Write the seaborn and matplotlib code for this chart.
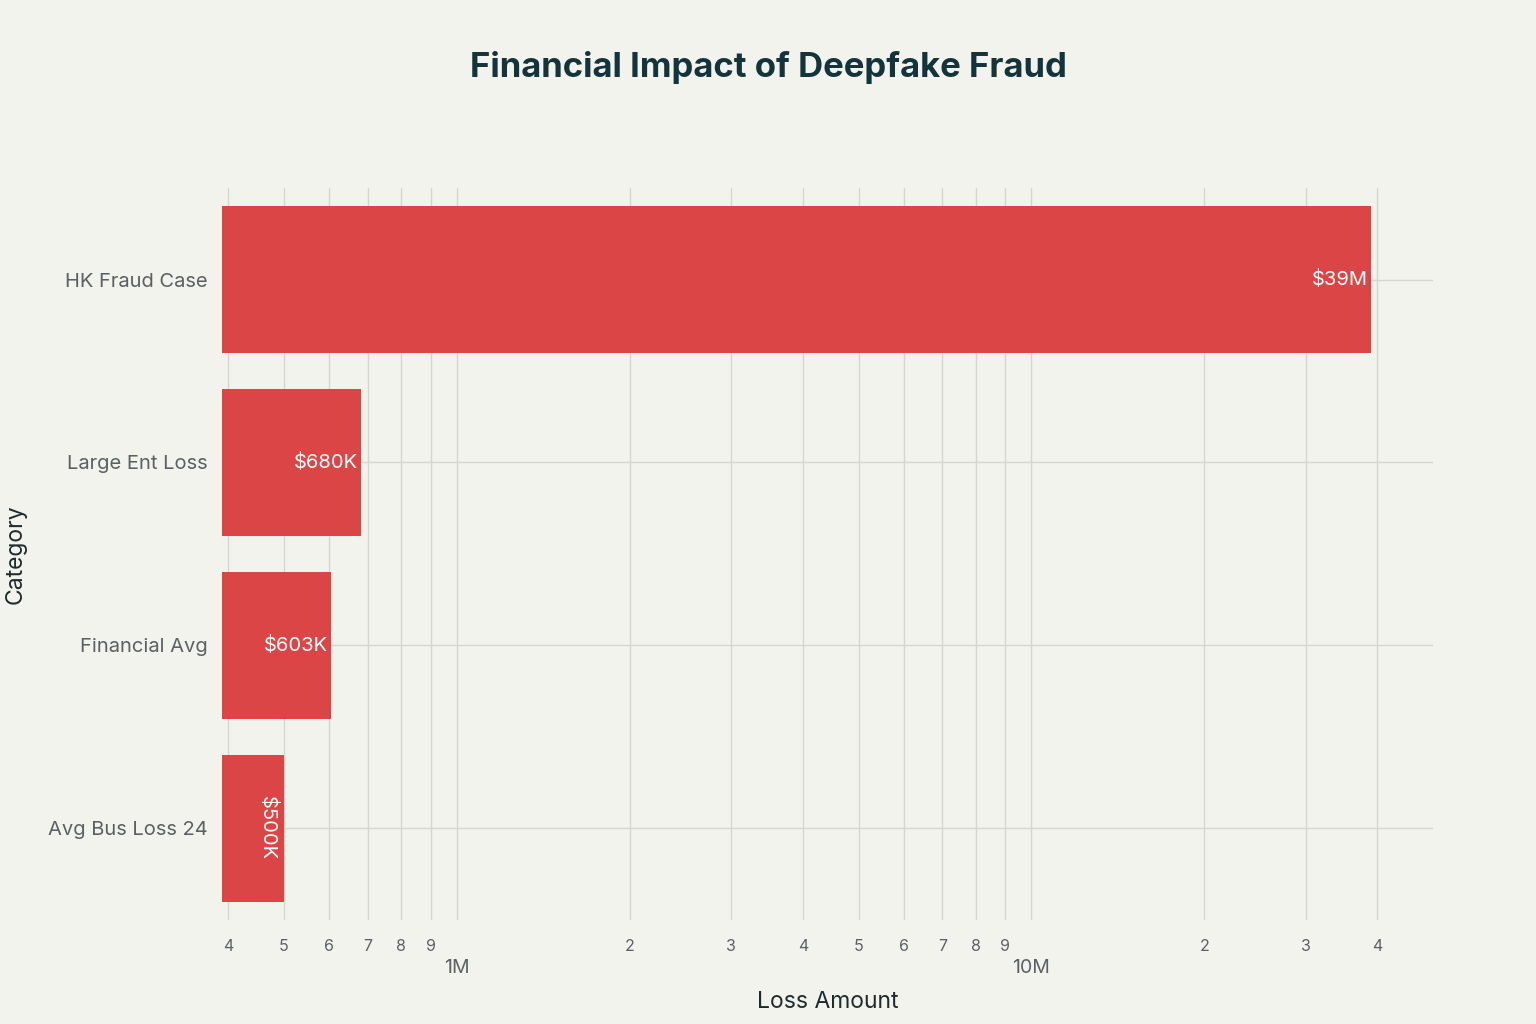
import numpy as np
import pandas as pd
import seaborn as sns
import matplotlib.pyplot as plt
from matplotlib.ticker import FixedLocator, FixedFormatter

# Data
categories = ["HK Fraud Case", "Large Ent Loss", "Financial Avg", "Avg Bus Loss 24"]
losses = [39_000_000, 680_000, 603_000, 500_000]
bar_labels = ["$39M", "$680K", "$603K", "$500K"]

major_ticks = [1e6, 1e7]
major_labels = ["1M", "10M"]
minor_ticks = [4e5, 5e5, 6e5, 7e5, 8e5, 9e5,
               2e6, 3e6, 4e6, 5e6, 6e6, 7e6, 8e6, 9e6,
               2e7, 3e7, 4e7]
minor_labels = ["4", "5", "6", "7", "8", "9",
                "2", "3", "4", "5", "6", "7", "8", "9",
                "2", "3", "4"]

df = pd.DataFrame({"Category": categories, "Loss": losses})

bg = "#F3F3EE"
grid_c = "#D6D6D1"
bar_c = "#DB4545"

sns.set_theme(style="white")
plt.rcParams["font.family"] = ["Inter", "DejaVu Sans"]

fig = plt.figure(figsize=(15.36, 10.24), dpi=100, facecolor=bg)
ax = fig.add_axes([0.1445, 0.1016, 0.7885, 0.7148])
ax.set_facecolor(bg)

sns.barplot(data=df, x="Loss", y="Category", orient="h", color=bar_c,
            saturation=1, width=0.8, linewidth=0, ax=ax, zorder=3)
ax.set_xscale("log")
ax.set_xlim(3.9e5, 5.0e7)
ax.set_ylim(3.5, -0.5)

# ticks
ax.xaxis.set_major_locator(FixedLocator(major_ticks))
ax.xaxis.set_major_formatter(FixedFormatter(major_labels))
ax.xaxis.set_minor_locator(FixedLocator(minor_ticks))
ax.xaxis.set_minor_formatter(FixedFormatter(minor_labels))
ax.tick_params(axis="x", which="major", pad=20, labelsize=14,
               labelcolor="#5C6063", length=8, color=grid_c, width=1)
ax.tick_params(axis="x", which="minor", pad=6, labelsize=11.5,
               labelcolor="#5C6063", length=8, color=grid_c, width=1)
ax.tick_params(axis="y", labelsize=14.5, labelcolor="#5C6063",
               length=6, color=grid_c, pad=4)

ax.grid(True, which="both", axis="x", color=grid_c, linewidth=1, zorder=0)
ax.grid(True, which="major", axis="y", color=grid_c, linewidth=1, zorder=0)
for s in ax.spines.values():
    s.set_visible(False)

# bar value labels
for i, (v, lab) in enumerate(zip(losses, bar_labels)):
    if lab == "$500K":
        ax.text(v / 1.03, i, lab, rotation=-90, ha="right", va="center",
                color="white", fontsize=14.5, zorder=4)
    else:
        ax.text(v / 1.012, i, lab, ha="right", va="center",
                color="white", fontsize=14.5, zorder=4)

ax.set_xlabel("Loss Amount", fontsize=16.5, color="#1F2A2E", labelpad=10)
ax.set_ylabel("Category", fontsize=16.5, color="#1F2A2E", labelpad=16)

fig.suptitle("Financial Impact of Deepfake Fraud", x=0.5, y=0.95,
             fontsize=25, fontweight="bold", color="#13343B")

fig.savefig("out.png", dpi=100, facecolor=bg)
